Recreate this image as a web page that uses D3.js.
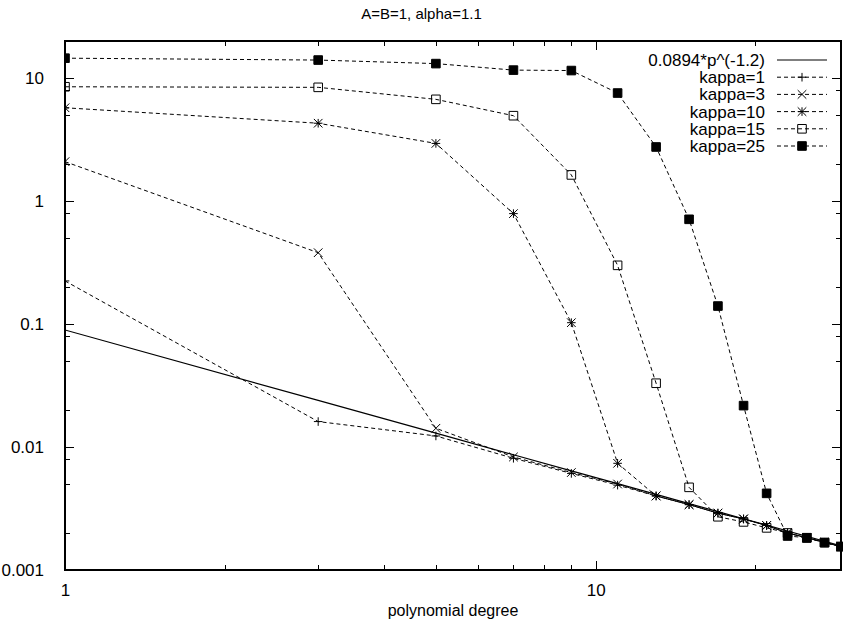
<!DOCTYPE html>
<html lang="en">
<head>
<meta charset="utf-8">
<title>A=B=1, alpha=1.1</title>
<script src="https://cdn.jsdelivr.net/npm/d3@7/dist/d3.min.js"></script>
<style>
body { margin: 0; background: #fff; }
svg text { font-family: "Liberation Sans", Arial, sans-serif; font-size: 17px; fill: #000; }
.axis path { display: none; }
.axis line { stroke: #000; stroke-width: 1; shape-rendering: crispEdges; }
.border { fill: none; stroke: #000; stroke-width: 1.2; shape-rendering: crispEdges; }
.series { fill: none; stroke: #000; stroke-width: 1; stroke-dasharray: 4,3; }
.fit { fill: none; stroke: #000; stroke-width: 1.2; }
.mark { stroke: #000; stroke-width: 1; fill: none; }
</style>
</head>
<body>
<script>
// polynomial degree (x)
var degrees = [1, 3, 5, 7, 9, 11, 13, 15, 17, 19, 21, 23, 25, 27, 29];

// error values
var kappa1  = [0.224, 0.0161, 0.0123, 0.0081, 0.0061, 0.0049, 0.0040, 0.0034, 0.0029, 0.0026, 0.0023, 0.0020, 0.00183, 0.00168, 0.00155];
var kappa3  = [2.09, 0.38, 0.0142, 0.0083, 0.0062, 0.0050, 0.0040, 0.0034, 0.0029, 0.0026, 0.0023, 0.0020, 0.00183, 0.00168, 0.00155];
var kappa10 = [5.73, 4.29, 2.94, 0.79, 0.1025, 0.00737, 0.0040, 0.0034, 0.0029, 0.0026, 0.0023, 0.0020, 0.00183, 0.00168, 0.00155];
var kappa15 = [8.49, 8.4, 6.71, 4.94, 1.63, 0.30, 0.033, 0.0047, 0.00271, 0.00246, 0.0022, 0.0020, 0.00182, 0.00167, 0.00155];
var kappa25 = [14.5, 14.0, 13.1, 11.6, 11.5, 7.55, 2.75, 0.71, 0.14, 0.0217, 0.0042, 0.00189, 0.00183, 0.00167, 0.00155];

// fitted power law 0.0894*p^(-1.2)
var fitCoef = 0.0894, fitExp = -1.2;

var seriesNames = ["kappa=1", "kappa=3", "kappa=10", "kappa=15", "kappa=25"];
var markerTypes = ["plus", "cross", "star", "box", "fbox"];

var xMajor = [1, 10];
var xMinor = [2, 3, 4, 5, 6, 7, 8, 9, 20];
var yMajor = [0.001, 0.01, 0.1, 1, 10];
var yMinor = [0.002, 0.005, 0.008, 0.02, 0.05, 0.08, 0.2, 0.5, 0.8, 2, 5, 8];
var yLabels = ["0.001", "0.01", "0.1", "1", "10"];

var w = 843, h = 626;
var pLeft = 65, pRight = 841, pTop = 41, pBottom = 570;

var x = d3.scaleLog().domain([1, 29]).range([pLeft, pRight]);
var y = d3.scaleLog().domain([0.001, 20]).range([pBottom, pTop]);

var svg = d3.select("body").append("svg")
  .attr("width", w)
  .attr("height", h);

// ticks (mirrored on top and right like gnuplot)
svg.append("g").attr("class", "axis")
  .attr("transform", "translate(0," + pBottom + ")")
  .call(d3.axisBottom(x).tickValues(xMajor).tickSizeInner(-9).tickSizeOuter(0).tickPadding(14).tickFormat(d3.format("d")));
svg.append("g").attr("class", "axis")
  .attr("transform", "translate(0," + pBottom + ")")
  .call(d3.axisBottom(x).tickValues(xMinor).tickSizeInner(-5).tickSizeOuter(0).tickFormat(""));
svg.append("g").attr("class", "axis")
  .attr("transform", "translate(0," + pTop + ")")
  .call(d3.axisTop(x).tickValues(xMajor).tickSizeInner(-9).tickSizeOuter(0).tickFormat(""));
svg.append("g").attr("class", "axis")
  .attr("transform", "translate(0," + pTop + ")")
  .call(d3.axisTop(x).tickValues(xMinor).tickSizeInner(-5).tickSizeOuter(0).tickFormat(""));

svg.append("g").attr("class", "axis")
  .attr("transform", "translate(" + pLeft + ",0)")
  .call(d3.axisLeft(y).tickValues(yMajor).tickSizeInner(-9).tickSizeOuter(0).tickPadding(21)
    .tickFormat(function(d, i) { return yLabels[i]; }));
svg.append("g").attr("class", "axis")
  .attr("transform", "translate(" + pLeft + ",0)")
  .call(d3.axisLeft(y).tickValues(yMinor).tickSizeInner(-5).tickSizeOuter(0).tickFormat(""));
svg.append("g").attr("class", "axis")
  .attr("transform", "translate(" + pRight + ",0)")
  .call(d3.axisRight(y).tickValues(yMajor).tickSizeInner(-9).tickSizeOuter(0).tickFormat(""));
svg.append("g").attr("class", "axis")
  .attr("transform", "translate(" + pRight + ",0)")
  .call(d3.axisRight(y).tickValues(yMinor).tickSizeInner(-5).tickSizeOuter(0).tickFormat(""));

svg.selectAll(".axis text").style("font-size", "17px");

// border
svg.append("rect").attr("class", "border")
  .attr("x", pLeft).attr("y", pTop)
  .attr("width", pRight - pLeft).attr("height", pBottom - pTop);

// title and axis label
svg.append("text")
  .attr("x", w / 2).attr("y", 19)
  .attr("text-anchor", "middle")
  .style("font-size", "15px")
  .text("A=B=1, alpha=1.1");
svg.append("text")
  .attr("x", (pLeft + pRight) / 2).attr("y", 616)
  .attr("text-anchor", "middle")
  .style("font-size", "16px")
  .text("polynomial degree");

svg.append("clipPath").attr("id", "clip")
  .append("rect").attr("x", pLeft).attr("y", pTop - 6)
  .attr("width", pRight - pLeft + 4).attr("height", pBottom - pTop + 6);

var plot = svg.append("g").attr("clip-path", "url(#clip)");

var line = d3.line()
  .x(function(d) { return x(d[0]); })
  .y(function(d) { return y(d[1]); });

// marker shapes, r = half size
function markerPath(type, r) {
  var p = d3.path();
  if (type == "plus" || type == "star") {
    p.moveTo(-r, 0); p.lineTo(r, 0); p.moveTo(0, -r); p.lineTo(0, r);
  }
  if (type == "cross" || type == "star") {
    p.moveTo(-r, -r); p.lineTo(r, r); p.moveTo(-r, r); p.lineTo(r, -r);
  }
  if (type == "box" || type == "fbox") {
    p.rect(-r, -r, 2 * r, 2 * r);
  }
  return p.toString();
}

function drawMarker(g, type, cx, cy) {
  g.append("path")
    .attr("class", "mark")
    .attr("transform", "translate(" + cx + "," + cy + ")")
    .attr("d", markerPath(type, 4.3))
    .style("fill", type == "fbox" ? "#000" : "none");
}

// fitted power law
var fitData = degrees.map(function(p) { return [p, fitCoef * Math.pow(p, fitExp)]; });
plot.append("path").datum(fitData).attr("class", "fit").attr("d", line);

var allSeries = [kappa1, kappa3, kappa10, kappa15, kappa25];
allSeries.forEach(function(vals, i) {
  var data = degrees.map(function(p, j) { return [p, vals[j]]; });
  plot.append("path").datum(data).attr("class", "series").attr("d", line);
  var g = plot.append("g");
  data.forEach(function(d) { drawMarker(g, markerTypes[i], x(d[0]), y(d[1])); });
});

// legend
var legX = 765, legY = 60, legStep = 17.2;
var legend = svg.append("g");
var legendNames = ["0.0894*p^(-1.2)"].concat(seriesNames);
legendNames.forEach(function(name, i) {
  var ly = legY + i * legStep;
  legend.append("text")
    .attr("x", legX).attr("y", ly)
    .attr("dy", "0.35em")
    .attr("text-anchor", "end")
    .text(name);
  legend.append("line")
    .attr("x1", 777).attr("x2", 827)
    .attr("y1", ly).attr("y2", ly)
    .attr("class", i == 0 ? "fit" : "series");
  if (i > 0) drawMarker(legend, markerTypes[i - 1], 802, ly);
});
</script>
</body>
</html>
